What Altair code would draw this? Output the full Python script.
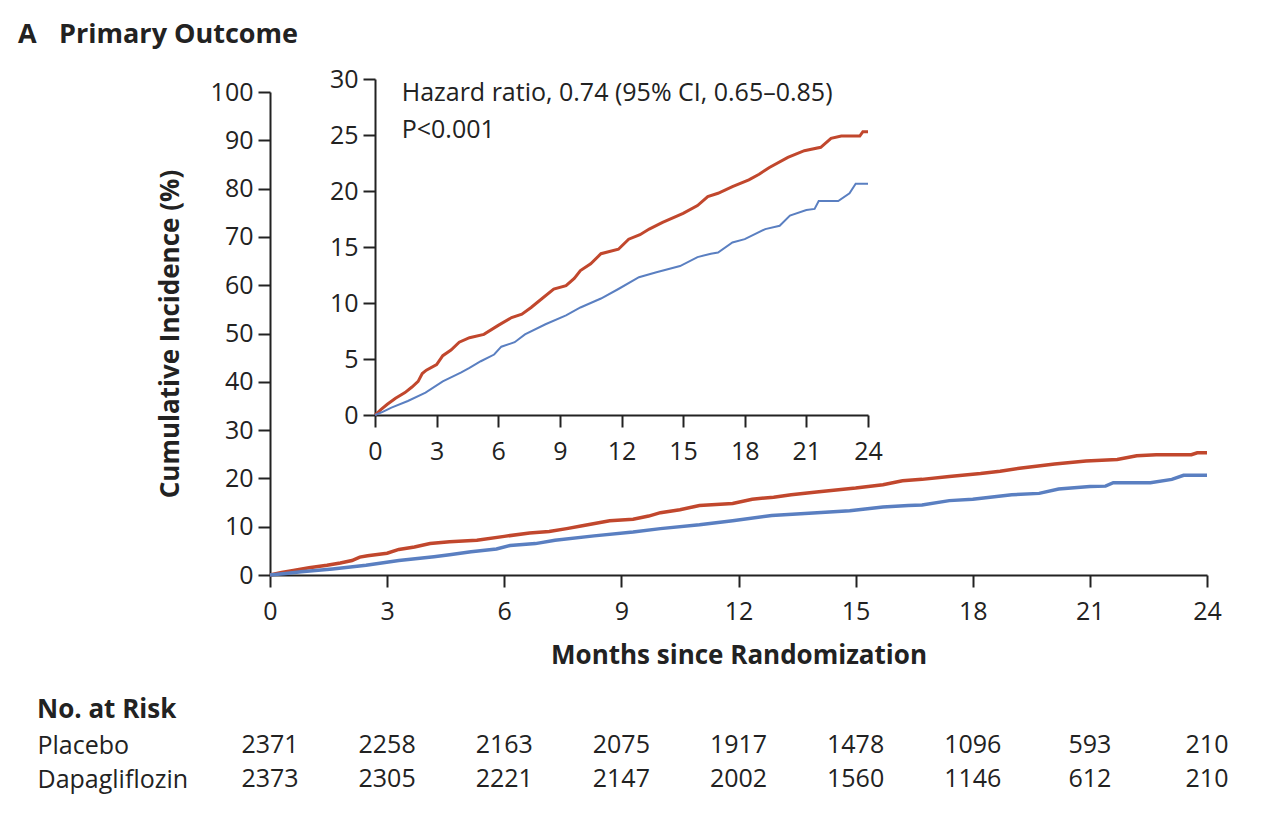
import altair as alt
import pandas as pd

# ---- data ----
groups = ["Placebo", "Dapagliflozin"]
colors = ["#C1472D", "#5A7FC1"]

placebo_months = [0, 0.3, 0.6, 1.0, 1.46, 1.8, 2.1, 2.3, 2.5, 3.0, 3.3, 3.7, 4.1, 4.6, 5.3,
                  6.0, 6.65, 7.15, 7.6, 8.0, 8.7, 9.3, 9.7, 10.0, 10.5, 11.0, 11.85, 12.35,
                  12.9, 13.35, 14.0, 15.0, 15.7, 16.2, 16.7, 17.4, 18.2, 18.7, 19.2, 20.1,
                  20.9, 21.7, 22.2, 22.7, 23.6, 23.75, 24.0]
placebo_pct = [0, 0.5, 0.96, 1.5, 2.0, 2.5, 3.0, 3.7, 4.0, 4.5, 5.3, 5.8, 6.5, 6.9, 7.2,
               8.0, 8.7, 9.0, 9.6, 10.2, 11.25, 11.55, 12.2, 12.9, 13.5, 14.4, 14.8, 15.7,
               16.1, 16.6, 17.2, 18.0, 18.7, 19.5, 19.8, 20.4, 21.0, 21.5, 22.1, 23.0,
               23.6, 23.9, 24.7, 24.9, 24.9, 25.3, 25.3]

dapa_months = [0, 0.4, 0.8, 1.6, 2.46, 3.3, 4.2, 4.6, 5.15, 5.8, 6.15, 6.8, 7.3, 8.3, 9.3,
               10.0, 11.0, 11.85, 12.85, 13.7, 14.85, 15.7, 16.35, 16.7, 17.4, 18.0, 19.0,
               19.7, 20.2, 21.0, 21.4, 21.6, 22.55, 23.1, 23.4, 24.0]
dapa_pct = [0, 0.3, 0.66, 1.25, 2.0, 3.0, 3.8, 4.2, 4.8, 5.4, 6.1, 6.5, 7.2, 8.1, 8.9,
            9.6, 10.4, 11.25, 12.3, 12.75, 13.3, 14.1, 14.4, 14.5, 15.4, 15.7, 16.6,
            16.9, 17.8, 18.3, 18.4, 19.1, 19.1, 19.8, 20.65, 20.65]

tick_months = [0, 3, 6, 9, 12, 15, 18, 21, 24]
main_y_ticks = [0, 10, 20, 30, 40, 50, 60, 70, 80, 90, 100]
inset_y_ticks = [0, 5, 10, 15, 20, 25, 30]

risk_placebo = [2371, 2258, 2163, 2075, 1917, 1478, 1096, 593, 210]
risk_dapa = [2373, 2305, 2221, 2147, 2002, 1560, 1146, 612, 210]

hr_text = "Hazard ratio, 0.74 (95% CI, 0.65\u20130.85)"
p_text = "P<0.001"

# ---- tables ----
curves = pd.concat([
    pd.DataFrame({"group": groups[0], "month": placebo_months, "pct": placebo_pct}),
    pd.DataFrame({"group": groups[1], "month": dapa_months, "pct": dapa_pct}),
], ignore_index=True)

risk = pd.DataFrame({
    "group": [groups[0]] * len(tick_months) + [groups[1]] * len(tick_months),
    "month": tick_months + tick_months,
    "n": risk_placebo + risk_dapa,
})

FONT = "Open Sans"
W, H = 937, 483
INK = "#222"

color = alt.Color("group:N", scale=alt.Scale(domain=groups, range=colors), legend=None)

ycommon = dict(labelFlush=False, labelOverlap=False, tickSize=12, labelPadding=5)
xcommon = dict(labelFlush=False, labelOverlap=False, tickSize=12, labelPadding=12)

main_lines = alt.Chart(curves).mark_line(interpolate="linear", strokeWidth=3.5).encode(
    x=alt.X("month:Q", scale=alt.Scale(domain=[0, 24], nice=False),
            axis=alt.Axis(values=tick_months, title="Months since Randomization",
                          titlePadding=18, **xcommon)),
    y=alt.Y("pct:Q", scale=alt.Scale(domain=[0, 100], nice=False),
            axis=alt.Axis(values=main_y_ticks, title="Cumulative Incidence (%)",
                          titlePadding=27, **ycommon)),
    color=color,
)

inset_x = alt.X("month:Q", scale=alt.Scale(domain=[0, 24], range=[105, 598], nice=False),
                axis=alt.Axis(values=tick_months, title=None, orient="bottom", offset=-160,
                              **xcommon))
inset_y = alt.Y("pct:Q", scale=alt.Scale(domain=[0, 30], range=[323, -13], nice=False),
                axis=alt.Axis(values=inset_y_ticks, title=None, orient="left", offset=-105,
                              **ycommon))

inset_lines = alt.Chart(curves).mark_line(interpolate="linear").encode(
    x=inset_x, y=inset_y, color=color,
    strokeWidth=alt.StrokeWidth("group:N", scale=alt.Scale(domain=groups, range=[3, 2]),
                                legend=None),
)

ann1 = alt.Chart().mark_text(align="left", baseline="middle", fontSize=25, font=FONT,
                             color=INK).encode(
    x=alt.datum(1.3), y=alt.datum(28.75), text=alt.value(hr_text))
ann2 = alt.Chart().mark_text(align="left", baseline="middle", fontSize=25, font=FONT,
                             color=INK).encode(
    x=alt.datum(1.3), y=alt.datum(25.45), text=alt.value(p_text))

inset = alt.layer(inset_lines, ann1, ann2)

main = alt.layer(main_lines, inset).resolve_scale(
    x="independent", y="independent", color="shared").properties(width=W, height=H)

table = alt.Chart(risk).mark_text(fontSize=25, font=FONT, align="center",
                                  baseline="middle", color=INK).encode(
    x=alt.X("month:Q", scale=alt.Scale(domain=[0, 24], nice=False), axis=None),
    y=alt.Y("group:N", sort=groups,
            scale=alt.Scale(domain=groups, paddingInner=0, paddingOuter=0),
            axis=alt.Axis(title=None, ticks=False, tickSize=0, domain=False,
                          labelAlign="left", labelPadding=233, labelFontSize=25,
                          labelFontWeight="normal")),
    text="n:Q",
).properties(width=W, height=68,
             title=alt.TitleParams("No. at Risk", anchor="start", fontSize=26,
                                   fontWeight="bold", font=FONT, color=INK,
                                   baseline="alphabetic", offset=-16))

chart = alt.vconcat(
    main, table, spacing=153, bounds="flush",
    title=alt.TitleParams("A\u2002\u2009\u2009Primary Outcome", anchor="start", dx=-19,
                          fontSize=27, fontWeight="bold", font=FONT, color=INK,
                          offset=18),
).properties(
    padding={"left": 10, "top": 13, "right": 10, "bottom": 10}
).configure_view(stroke=None).configure_axis(
    grid=False, domainColor=INK, tickColor=INK, labelColor=INK,
    domainWidth=2, tickWidth=2, labelFont=FONT, labelFontSize=25,
    titleFont=FONT, titleFontSize=26, titleFontWeight="bold", titleColor=INK,
).configure_text(font=FONT)

chart.save("out.html", embed_options={"renderer": "svg", "actions": False})
